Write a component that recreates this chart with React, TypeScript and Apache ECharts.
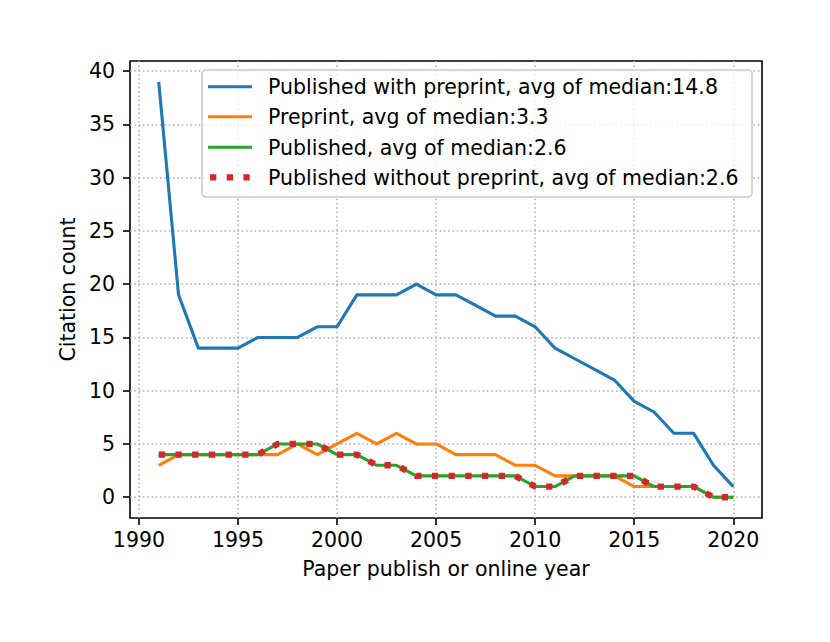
import React, { useEffect, useRef } from "react";
import * as echarts from "echarts";

const years = [
  1991, 1992, 1993, 1994, 1995, 1996, 1997, 1998, 1999, 2000,
  2001, 2002, 2003, 2004, 2005, 2006, 2007, 2008, 2009, 2010,
  2011, 2012, 2013, 2014, 2015, 2016, 2017, 2018, 2019, 2020,
];
const publishedWithPreprint = [
  39, 19, 14, 14, 14, 15, 15, 15, 16, 16,
  19, 19, 19, 20, 19, 19, 18, 17, 17, 16,
  14, 13, 12, 11, 9, 8, 6, 6, 3, 1,
];
const preprint = [
  3, 4, 4, 4, 4, 4, 4, 5, 4, 5,
  6, 5, 6, 5, 5, 4, 4, 4, 3, 3,
  2, 2, 2, 2, 1, 1, 1, 1, 0, 0,
];
const published = [
  4, 4, 4, 4, 4, 4, 5, 5, 5, 4,
  4, 3, 3, 2, 2, 2, 2, 2, 2, 1,
  1, 2, 2, 2, 2, 1, 1, 1, 0, 0,
];
const publishedWithoutPreprint = [
  4, 4, 4, 4, 4, 4, 5, 5, 5, 4,
  4, 3, 3, 2, 2, 2, 2, 2, 2, 1,
  1, 2, 2, 2, 2, 1, 1, 1, 0, 0,
];
const xTicks = [1990, 1995, 2000, 2005, 2010, 2015, 2020];
const yTicks = [0, 5, 10, 15, 20, 25, 30, 35, 40];
const seriesNames = [
  "Published with preprint, avg of median:14.8",
  "Preprint, avg of median:3.3",
  "Published, avg of median:2.6",
  "Published without preprint, avg of median:2.6",
];
const colors = ["#1f77b4", "#ff7f0e", "#2ca02c", "#d62728"];

const FONT = "DejaVu Sans";
const FS = 20.5;

export default function App() {
  const ref = useRef<HTMLDivElement>(null);
  useEffect(() => {
    document.body.style.margin = "0";
    if (!ref.current) return;
    const chart = echarts.init(ref.current, undefined, { renderer: "svg" });
    const pairs = (vals: number[]) => years.map((y, i) => [y, vals[i]]);
    const allVals = [publishedWithPreprint, preprint, published, publishedWithoutPreprint];

    const tickStyle = { show: true, inside: false, length: 7, lineStyle: { color: "#000", width: 1.6 } };
    const splitStyle = { show: true, lineStyle: { color: "#b0b0b0", width: 1.5, type: [1.6, 2.7] } };
    const labelStyle = { color: "#000", fontSize: FS, fontFamily: FONT };

    const legendX1 = 208;
    const legendX2 = 252;
    const rowY = [86.7, 116.7, 147.3, 177.3];
    const legendGraphics: any[] = [
      {
        type: "rect",
        shape: { x: 202, y: 70, width: 550, height: 127, r: 4 },
        style: { fill: "rgba(255,255,255,0.8)", stroke: "#cccccc", lineWidth: 1.6 },
        z: 100,
      },
    ];
    seriesNames.forEach((name, i) => {
      legendGraphics.push({
        type: "line",
        shape: { x1: i === 3 ? 210 : legendX1, y1: rowY[i], x2: legendX2, y2: rowY[i] },
        style: {
          stroke: colors[i],
          lineWidth: i === 3 ? 6.3 : 3.1,
          lineDash: i === 3 ? [6.3, 10.4] : null,
          lineCap: "butt",
        },
        z: 101,
      });
      legendGraphics.push({
        type: "text",
        x: 268,
        y: rowY[i] + 0.5,
        style: {
          text: name,
          fill: "#000",
          fontSize: FS,
          fontFamily: FONT,
          verticalAlign: "middle",
          align: "left",
        },
        z: 101,
      });
    });

    chart.setOption({
      animation: false,
      backgroundColor: "#fff",
      textStyle: { fontFamily: FONT },
      grid: {
        left: 130,
        top: 61,
        width: 632,
        height: 457,
        show: true,
        borderColor: "#000",
        borderWidth: 1.6,
        backgroundColor: "transparent",
        containLabel: false,
      },
      xAxis: {
        type: "value",
        position: "bottom",
        min: 1989.55,
        max: 2021.45,
        name: "Paper publish or online year",
        nameLocation: "middle",
        nameGap: 40,
        nameTextStyle: { color: "#000", fontSize: FS, fontFamily: FONT },
        axisLine: { show: false, onZero: false },
        axisTick: { ...tickStyle, customValues: xTicks },
        axisLabel: { ...labelStyle, margin: 11, customValues: xTicks, formatter: (v: number) => String(v) },
        splitLine: splitStyle,
      },
      yAxis: {
        type: "value",
        position: "left",
        min: -1.95,
        max: 40.95,
        name: "Citation count",
        nameLocation: "middle",
        nameGap: 52,
        nameTextStyle: { color: "#000", fontSize: FS, fontFamily: FONT },
        axisLine: { show: false, onZero: false },
        axisTick: { ...tickStyle, customValues: yTicks },
        axisLabel: { ...labelStyle, margin: 15, customValues: yTicks, formatter: (v: number) => String(v) },
        splitLine: splitStyle,
      },
      series: allVals.map((vals, i) => ({
        name: seriesNames[i],
        type: "line",
        data: pairs(vals),
        symbol: "none",
        showSymbol: false,
        clip: false,
        z: 2 + i,
        lineStyle: {
          color: colors[i],
          width: i === 3 ? 6.3 : 3.1,
          type: i === 3 ? [6.3, 10.4] : "solid",
          cap: "butt",
          join: "round",
        },
        itemStyle: { color: colors[i] },
      })),
      graphic: legendGraphics,
    });
    return () => chart.dispose();
  }, []);
  return <div ref={ref} style={{ width: 830, height: 642 }} />;
}
